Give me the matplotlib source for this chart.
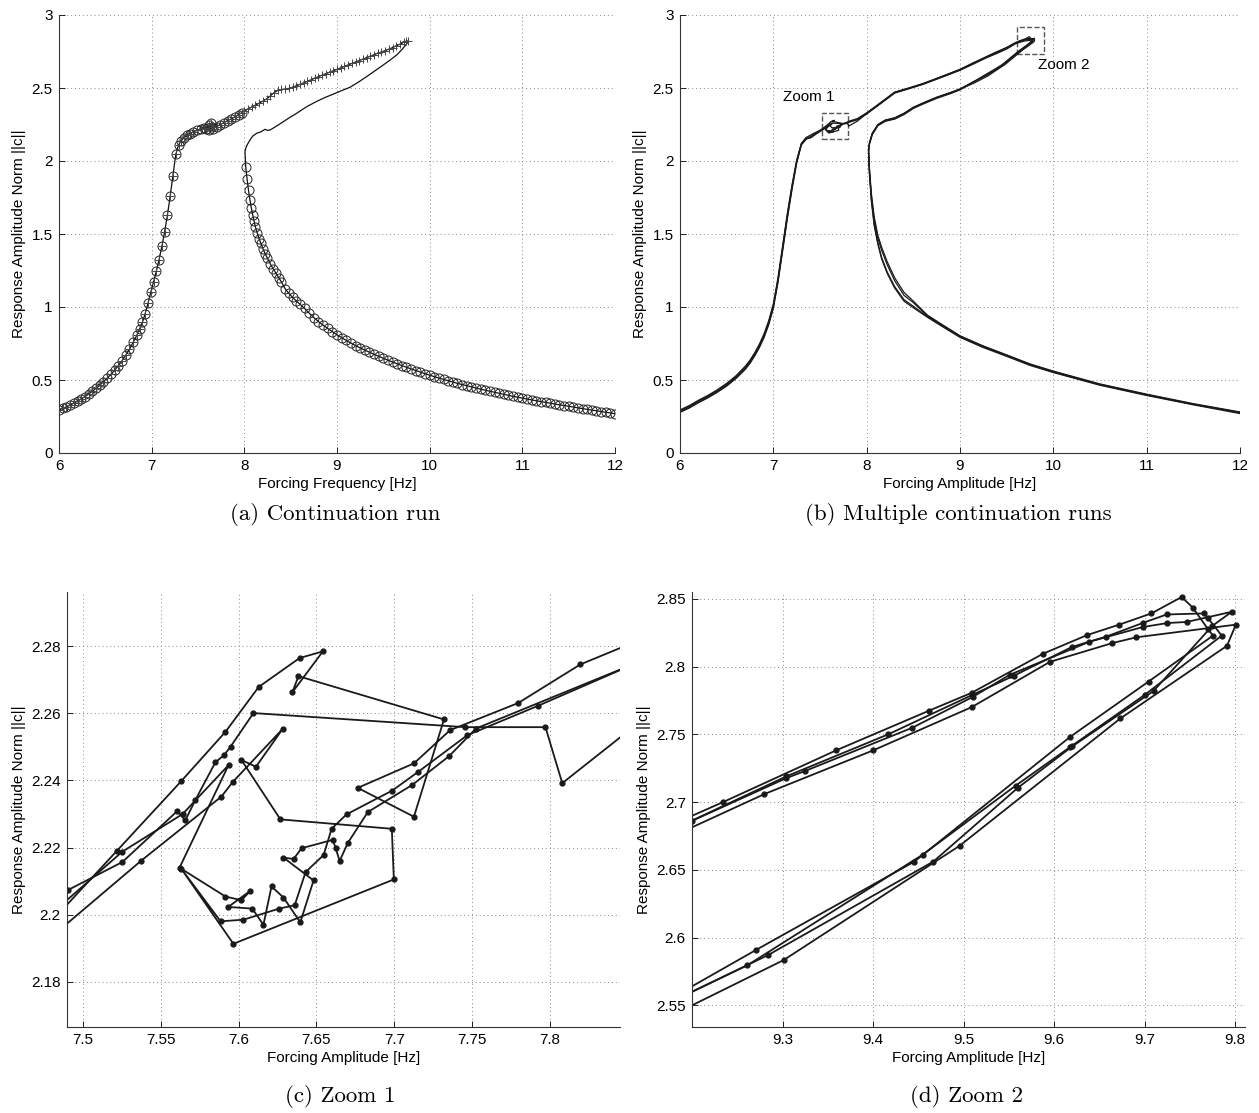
import numpy as np
import matplotlib.pyplot as plt
from matplotlib.patches import Rectangle
from matplotlib.ticker import FormatStrFormatter

plt.rcParams['font.family'] = ['Liberation Sans', 'DejaVu Sans']

# ---------------- panel (a): single continuation run ----------------
# stable lower branch (circles and crosses)
a_left = [(6.00, 0.295), (6.04, 0.305), (6.08, 0.316), (6.12, 0.328), (6.16, 0.341),
          (6.20, 0.355), (6.24, 0.370), (6.28, 0.386), (6.32, 0.404), (6.36, 0.423),
          (6.40, 0.443), (6.44, 0.464), (6.48, 0.488), (6.52, 0.513), (6.56, 0.539),
          (6.60, 0.567), (6.64, 0.598), (6.68, 0.632), (6.72, 0.670), (6.76, 0.710),
          (6.80, 0.757), (6.84, 0.807), (6.87, 0.850), (6.90, 0.895), (6.93, 0.955),
          (6.96, 1.025), (6.99, 1.100), (7.02, 1.170), (7.05, 1.245), (7.08, 1.325),
          (7.11, 1.415), (7.14, 1.515), (7.17, 1.630), (7.20, 1.760), (7.23, 1.900),
          (7.26, 2.045), (7.29, 2.110), (7.32, 2.140), (7.35, 2.160), (7.38, 2.175),
          (7.41, 2.188), (7.45, 2.200), (7.49, 2.210), (7.53, 2.220), (7.56, 2.228),
          (7.59, 2.222), (7.62, 2.245), (7.64, 2.258), (7.65, 2.235), (7.62, 2.212),
          (7.66, 2.218), (7.70, 2.235), (7.74, 2.250), (7.78, 2.262), (7.82, 2.276),
          (7.86, 2.288), (7.90, 2.302), (7.94, 2.318), (7.97, 2.330)]
# upper branch (crosses only)
a_upper = [(8.00, 2.345), (8.04, 2.357), (8.08, 2.370), (8.12, 2.383), (8.16, 2.396),
           (8.20, 2.410), (8.24, 2.425), (8.28, 2.445), (8.32, 2.468), (8.36, 2.483),
           (8.40, 2.490), (8.44, 2.493), (8.48, 2.497), (8.52, 2.505), (8.56, 2.515),
           (8.60, 2.525), (8.64, 2.535), (8.68, 2.546), (8.72, 2.556), (8.76, 2.567),
           (8.80, 2.578), (8.84, 2.588), (8.88, 2.598), (8.92, 2.608), (8.96, 2.618),
           (9.00, 2.628), (9.04, 2.638), (9.08, 2.648), (9.12, 2.658), (9.16, 2.668),
           (9.20, 2.678), (9.24, 2.688), (9.28, 2.698), (9.32, 2.708), (9.36, 2.718),
           (9.40, 2.728), (9.44, 2.738), (9.48, 2.747), (9.52, 2.756), (9.56, 2.766),
           (9.60, 2.777), (9.64, 2.789), (9.68, 2.800), (9.72, 2.813), (9.75, 2.822),
           (9.77, 2.822)]
# unstable branch (line only)
a_back = [(9.77, 2.817), (9.71, 2.770), (9.644, 2.726), (9.57, 2.690), (9.50, 2.658),
          (9.41, 2.618), (9.32, 2.578), (9.23, 2.540), (9.14, 2.505), (9.05, 2.482),
          (8.96, 2.458), (8.87, 2.435), (8.78, 2.408), (8.673, 2.372), (8.565, 2.327),
          (8.49, 2.298), (8.42, 2.269), (8.35, 2.240), (8.277, 2.212), (8.25, 2.210),
          (8.223, 2.217), (8.18, 2.200), (8.133, 2.190), (8.09, 2.170), (8.061, 2.144),
          (8.03, 2.110), (8.015, 2.087), (8.007, 2.064)]
# stable right branch (circles only)
a_right = [(8.015, 1.958), (8.03, 1.875), (8.045, 1.800), (8.06, 1.735), (8.075, 1.680),
           (8.09, 1.632), (8.105, 1.588), (8.12, 1.548), (8.14, 1.505), (8.16, 1.468),
           (8.18, 1.435), (8.20, 1.400), (8.225, 1.365), (8.25, 1.333), (8.28, 1.296),
           (8.31, 1.262), (8.34, 1.232), (8.37, 1.202), (8.40, 1.172), (8.44, 1.125),
           (8.48, 1.094), (8.52, 1.066), (8.56, 1.042), (8.60, 1.020), (8.65, 0.990),
           (8.70, 0.958), (8.75, 0.928), (8.80, 0.900), (8.85, 0.876), (8.90, 0.853),
           (8.95, 0.831), (9.00, 0.810), (9.05, 0.790), (9.10, 0.771), (9.15, 0.753),
           (9.20, 0.736), (9.25, 0.720), (9.30, 0.705), (9.35, 0.690), (9.40, 0.676),
           (9.45, 0.662), (9.50, 0.649), (9.55, 0.636), (9.60, 0.623), (9.65, 0.611),
           (9.70, 0.599), (9.75, 0.587), (9.80, 0.576), (9.85, 0.565), (9.90, 0.554),
           (9.95, 0.543), (10.00, 0.533), (10.05, 0.523), (10.10, 0.513), (10.15, 0.504),
           (10.20, 0.495), (10.25, 0.486), (10.30, 0.477), (10.35, 0.469), (10.40, 0.461),
           (10.45, 0.453), (10.50, 0.445), (10.55, 0.437), (10.60, 0.430), (10.65, 0.423),
           (10.70, 0.416), (10.75, 0.409), (10.80, 0.402), (10.85, 0.395), (10.90, 0.388),
           (10.95, 0.382), (11.00, 0.376), (11.05, 0.370), (11.10, 0.364), (11.15, 0.358),
           (11.20, 0.352), (11.25, 0.347), (11.30, 0.341), (11.35, 0.336), (11.40, 0.330),
           (11.45, 0.325), (11.50, 0.320), (11.55, 0.315), (11.60, 0.309), (11.65, 0.304),
           (11.70, 0.299), (11.75, 0.294), (11.80, 0.289), (11.85, 0.284), (11.90, 0.279),
           (11.95, 0.274), (12.00, 0.269)]

# ---------------- panels (b)-(d): four continuation runs ----------------
left_f = [6.0, 6.1, 6.2, 6.3, 6.4, 6.5, 6.6, 6.7, 6.75, 6.8, 6.85, 6.9, 6.95, 7.0, 7.05,
          7.1, 7.15, 7.2, 7.25, 7.3, 7.35]
r1_left = [0.295, 0.325, 0.362, 0.395, 0.433, 0.477, 0.529, 0.595, 0.636, 0.686, 0.745,
           0.815, 0.905, 1.02, 1.20, 1.42, 1.64, 1.835, 2.005, 2.12, 2.158]
r2_left = [0.290, 0.320, 0.357, 0.390, 0.428, 0.471, 0.523, 0.588, 0.629, 0.679, 0.737,
           0.807, 0.895, 1.01, 1.19, 1.41, 1.63, 1.825, 2.000, 2.117, 2.160]
r3_left = [0.283, 0.313, 0.350, 0.383, 0.421, 0.464, 0.516, 0.580, 0.621, 0.671, 0.729,
           0.798, 0.886, 1.00, 1.18, 1.395, 1.615, 1.815, 1.993, 2.113, 2.150]
r4_left = [0.278, 0.308, 0.345, 0.378, 0.416, 0.458, 0.510, 0.573, 0.614, 0.664, 0.721,
           0.790, 0.877, 0.99, 1.17, 1.385, 1.605, 1.805, 1.985, 2.110, 2.148]

# region of "Zoom 1"
r1_z1_f = [7.40, 7.5219, 7.5631, 7.5915, 7.6129, 7.6391, 7.6541, 7.6345, 7.6384, 7.7319,
           7.7126, 7.6765, 7.7126, 7.7358, 7.7796, 7.8195, 7.90]
r1_z1_y = [2.158, 2.2191, 2.2398, 2.2545, 2.2679, 2.2765, 2.2785, 2.2663, 2.2711, 2.2582,
           2.2292, 2.2378, 2.2451, 2.2550, 2.2631, 2.2746, 2.290]
r2_z1_f = [7.42, 7.4902, 7.5253, 7.5606, 7.5657, 7.5722, 7.585, 7.5907, 7.5948, 7.6095,
           7.7456, 7.7971, 7.8079, 7.90]
r2_z1_y = [2.185, 2.2073, 2.2157, 2.2309, 2.2281, 2.2342, 2.2454, 2.2476, 2.2501, 2.2601,
           2.2559, 2.2559, 2.2392, 2.273]
r3_z1_f = [7.40, 7.5374, 7.5889, 7.5961, 7.6283, 7.6111, 7.6018, 7.6268, 7.6984, 7.6997,
           7.5966, 7.5631, 7.5884, 7.6031, 7.6260, 7.6360, 7.6430, 7.6546, 7.6597, 7.6693,
           7.6987, 7.7151, 7.7469, 7.7925, 7.90]
r3_z1_y = [2.162, 2.2161, 2.2352, 2.2395, 2.2554, 2.2441, 2.2461, 2.2284, 2.2256, 2.2105,
           2.1913, 2.2137, 2.1980, 2.1985, 2.2018, 2.2028, 2.2127, 2.2178, 2.2256, 2.2299,
           2.2370, 2.2425, 2.2535, 2.2623, 2.284]
r4_z1_f = [7.41, 7.5253, 7.5640, 7.5935, 7.5620, 7.5915, 7.6018, 7.6075, 7.5933, 7.6087,
           7.6159, 7.6211, 7.6288, 7.6396, 7.6481, 7.6288, 7.6353, 7.6404, 7.6605, 7.6623,
           7.6649, 7.6700, 7.6830, 7.7116, 7.7353, 7.7525, 7.90]
r4_z1_y = [2.172, 2.2188, 2.2300, 2.2446, 2.2140, 2.2054, 2.2043, 2.2071, 2.2023, 2.2018,
           2.1970, 2.2084, 2.2051, 2.1977, 2.2102, 2.2170, 2.2166, 2.2198, 2.2223, 2.2198,
           2.2160, 2.2213, 2.2306, 2.2387, 2.2473, 2.2555, 2.2835]

upper_f = [8.0, 8.15, 8.3, 8.45, 8.6, 8.8, 9.0]
r1_upper = [2.330, 2.400, 2.472, 2.500, 2.530, 2.578, 2.628]
r2_upper = [2.325, 2.396, 2.468, 2.497, 2.527, 2.575, 2.625]
r3_upper = [2.327, 2.398, 2.470, 2.498, 2.528, 2.576, 2.626]
r4_upper = [2.322, 2.393, 2.465, 2.494, 2.524, 2.572, 2.621]

# region of "Zoom 2" (up to the fold and back down)
r1_z2_f = [9.15, 9.2347, 9.3591, 9.4622, 9.5089, 9.588, 9.6369, 9.672, 9.7076, 9.741,
           9.7533, 9.7698, 9.7756, 9.7044, 9.6178, 9.4458, 9.2711, 9.15]
r1_z2_y = [2.675, 2.7001, 2.7381, 2.7675, 2.7806, 2.8095, 2.8233, 2.8309, 2.8392, 2.8513,
           2.8435, 2.8279, 2.8228, 2.7889, 2.7481, 2.6561, 2.591, 2.545]
r2_z2_f = [9.15, 9.2, 9.3044, 9.4169, 9.5089, 9.5556, 9.62, 9.6578, 9.6978, 9.7244,
           9.7658, 9.7698, 9.7853, 9.70, 9.6178, 9.5578, 9.4547, 9.2613, 9.15]
r2_z2_y = [2.672, 2.6863, 2.719, 2.75, 2.7788, 2.7932, 2.8145, 2.8221, 2.8321, 2.8384,
           2.8392, 2.8359, 2.8228, 2.779, 2.7406, 2.7122, 2.6611, 2.5796, 2.544]
r3_z2_f = [9.15, 9.3044, 9.3253, 9.4436, 9.51, 9.5511, 9.6391, 9.6978, 9.7253, 9.7467,
           9.7964, 9.7747, 9.71, 9.62, 9.56, 9.4667, 9.2844, 9.15]
r3_z2_y = [2.671, 2.7177, 2.723, 2.7549, 2.7775, 2.7939, 2.8183, 2.8291, 2.8321, 2.8329,
           2.8404, 2.8299, 2.782, 2.741, 2.7105, 2.6561, 2.5872, 2.5438]
r4_z2_f = [9.15, 9.28, 9.40, 9.5089, 9.5956, 9.6644, 9.6911, 9.8009, 9.7911, 9.6733,
           9.4956, 9.3013, 9.15]
r4_z2_y = [2.666, 2.7059, 2.7381, 2.770, 2.8035, 2.8173, 2.8216, 2.8309, 2.8153, 2.7617,
           2.6677, 2.5834, 2.5335]

back_f = [9.0, 8.9, 8.75, 8.6, 8.5, 8.4, 8.3, 8.2, 8.12, 8.06, 8.03, 8.02]
r1_back = [2.490, 2.466, 2.433, 2.392, 2.363, 2.322, 2.290, 2.276, 2.245, 2.185, 2.120, 2.070]
r2_back = [2.494, 2.470, 2.437, 2.397, 2.368, 2.327, 2.296, 2.281, 2.250, 2.190, 2.125, 2.075]
r3_back = [2.487, 2.462, 2.429, 2.389, 2.360, 2.318, 2.287, 2.272, 2.242, 2.180, 2.115, 2.065]
r4_back = [2.492, 2.468, 2.435, 2.394, 2.366, 2.325, 2.293, 2.279, 2.248, 2.188, 2.122, 2.068]

right_f = [8.03, 8.05, 8.08, 8.12, 8.16, 8.22, 8.3, 8.4, 8.5, 8.65, 8.8, 9.0, 9.25, 9.5,
           9.75, 10.0, 10.5, 11.0, 11.5, 12.0]
r1_right = [1.92, 1.76, 1.60, 1.47, 1.39, 1.29, 1.18, 1.08, 1.03, 0.94, 0.88, 0.80, 0.73,
            0.67, 0.607, 0.558, 0.470, 0.400, 0.335, 0.278]
r2_right = [1.93, 1.74, 1.57, 1.44, 1.34, 1.24, 1.14, 1.05, 1.005, 0.935, 0.875, 0.797, 0.727,
            0.667, 0.604, 0.555, 0.467, 0.397, 0.333, 0.276]
r3_right = [1.95, 1.78, 1.62, 1.49, 1.41, 1.31, 1.20, 1.10, 1.04, 0.945, 0.883, 0.803, 0.733,
            0.672, 0.610, 0.561, 0.473, 0.403, 0.338, 0.281]
r4_right = [1.91, 1.73, 1.56, 1.43, 1.33, 1.23, 1.13, 1.04, 0.995, 0.93, 0.87, 0.792, 0.722,
            0.662, 0.600, 0.551, 0.464, 0.394, 0.330, 0.270]

ticks_ab_x = [6, 7, 8, 9, 10, 11, 12]
ticks_ab_y = [0, 0.5, 1, 1.5, 2, 2.5, 3]
ticks_c_x = [7.5, 7.55, 7.6, 7.65, 7.7, 7.75, 7.8]
ticks_c_y = [2.18, 2.2, 2.22, 2.24, 2.26, 2.28]
ticks_d_x = [9.3, 9.4, 9.5, 9.6, 9.7, 9.8]
ticks_d_y = [2.55, 2.6, 2.65, 2.7, 2.75, 2.8, 2.85]


def build_run(left, z1_f, z1_y, upper, z2_f, z2_y, back, right):
    f = np.concatenate([left_f, z1_f, upper_f, z2_f, back_f, right_f])
    y = np.concatenate([left, z1_y, upper, z2_y, back, right])
    return f, y


runs = [build_run(r1_left, r1_z1_f, r1_z1_y, r1_upper, r1_z2_f, r1_z2_y, r1_back, r1_right),
        build_run(r2_left, r2_z1_f, r2_z1_y, r2_upper, r2_z2_f, r2_z2_y, r2_back, r2_right),
        build_run(r3_left, r3_z1_f, r3_z1_y, r3_upper, r3_z2_f, r3_z2_y, r3_back, r3_right),
        build_run(r4_left, r4_z1_f, r4_z1_y, r4_upper, r4_z2_f, r4_z2_y, r4_back, r4_right)]

W, H = 1259, 1113
fig = plt.figure(figsize=(W / 100, H / 100), dpi=100)


def axes_px(l, t, r, b):
    return fig.add_axes([l / W, 1 - b / H, (r - l) / W, (b - t) / H])


def style(ax, xt, yt, xlabel):
    for s in ['top', 'right']:
        ax.spines[s].set_visible(False)
    for s in ['left', 'bottom']:
        ax.spines[s].set_linewidth(0.8)
        ax.spines[s].set_color('#333333')
    ax.set_xticks(xt)
    ax.set_yticks(yt)
    ax.xaxis.set_major_formatter(FormatStrFormatter('%g'))
    ax.yaxis.set_major_formatter(FormatStrFormatter('%g'))
    ax.tick_params(direction='in', length=4, width=0.6, labelsize=11,
                   top=False, right=False, pad=4.5)
    ax.grid(True, linestyle=(0, (1, 3)), color='#888888', linewidth=0.7)
    ax.set_axisbelow(True)
    ax.set_xlabel(xlabel, fontsize=11, labelpad=3)
    ax.set_ylabel('Response Amplitude Norm ||c||', fontsize=11, labelpad=4)


def caption(x, y, s):
    fig.text(x / W, 1 - y / H, s, ha='center', va='center',
             fontfamily='cmr10', fontsize=16.5)


# (a)
ax = axes_px(59, 15, 615, 453)
la = np.array(a_left).T
ua = np.array(a_upper).T
ba = np.array(a_back).T
ra = np.array(a_right).T
path_f = np.concatenate([la[0], ua[0], ba[0], ra[0]])
path_y = np.concatenate([la[1], ua[1], ba[1], ra[1]])
ax.plot(path_f, path_y, color='#111111', lw=0.9, zorder=3)
ax.plot(np.concatenate([la[0], ra[0]]), np.concatenate([la[1], ra[1]]), 'o', ls='none',
        ms=6.5, mfc='none', mec='#222222', mew=0.7, zorder=4)
ax.plot(np.concatenate([la[0], ua[0]]), np.concatenate([la[1], ua[1]]), '+', ls='none',
        ms=6, mec='#444444', mew=0.7, zorder=4)
ax.set_xlim(6, 12)
ax.set_ylim(0, 3)
style(ax, ticks_ab_x, ticks_ab_y, 'Forcing Frequency [Hz]')
caption(335, 514, '(a) Continuation run')

# (b)
ax = axes_px(680, 15, 1240, 453)
for f, y in runs:
    ax.plot(f, y, color='#1a1a1a', lw=0.9)
ax.add_patch(Rectangle((7.518, 2.151), 0.285, 0.18, fill=False, ec='#555555',
                       ls='--', lw=1.0))
ax.add_patch(Rectangle((9.614, 2.733), 0.286, 0.187, fill=False, ec='#555555',
                       ls='--', lw=1.0))
ax.text(7.10, 2.44, 'Zoom 1', fontsize=11, va='center', ha='left')
ax.text(9.84, 2.655, 'Zoom 2', fontsize=11, va='center', ha='left')
ax.set_xlim(6, 12)
ax.set_ylim(0, 3)
style(ax, ticks_ab_x, ticks_ab_y, 'Forcing Amplitude [Hz]')
caption(958, 514, '(b) Multiple continuation runs')

# (c)
ax = axes_px(67, 592, 620, 1027)
for f, y in runs:
    ax.plot(f, y, color='#1a1a1a', lw=1.3, marker='o', ms=3.5, mec='#1a1a1a')
ax.set_xlim(7.4897, 7.845)
ax.set_ylim(2.1665, 2.2962)
style(ax, ticks_c_x, ticks_c_y, 'Forcing Amplitude [Hz]')
caption(340, 1096, '(c) Zoom 1')

# (d)
ax = axes_px(692, 592, 1245, 1027)
for f, y in runs:
    ax.plot(f, y, color='#1a1a1a', lw=1.3, marker='o', ms=3.5, mec='#1a1a1a')
ax.set_xlim(9.2, 9.811)
ax.set_ylim(2.534, 2.855)
style(ax, ticks_d_x, ticks_d_y, 'Forcing Amplitude [Hz]')
caption(966, 1096, '(d) Zoom 2')

fig.savefig('out.png', dpi=100)
